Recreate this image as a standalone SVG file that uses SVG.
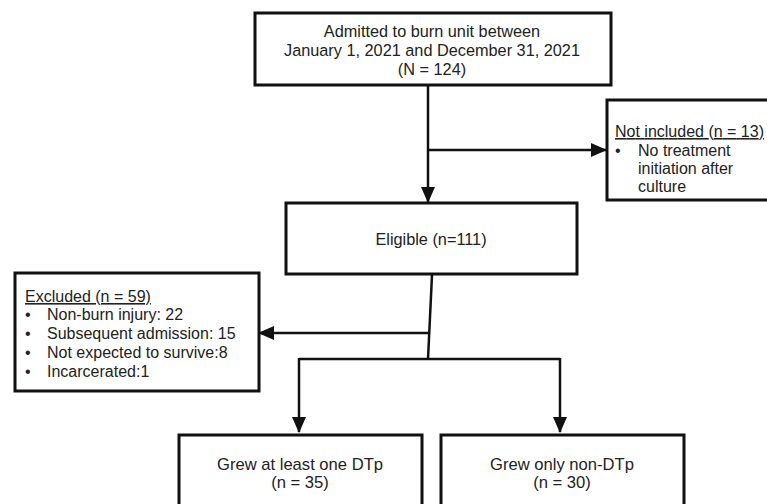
<svg xmlns="http://www.w3.org/2000/svg" width="767" height="504" viewBox="0 0 767 504">
<style>
  .box { fill: #fff; stroke: #111; stroke-width: 3; }
  .edge { fill: none; stroke: #111; stroke-width: 2.5; }
  text { font-family: "Liberation Sans", Arial, sans-serif; font-size: 16.3px; fill: #222; }
  .side { font-size: 16px; }
  .big { font-size: 16.6px; }
  .c { text-anchor: middle; }
  .u { text-decoration: underline; }
</style>
<defs>
  <marker id="arr" markerUnits="userSpaceOnUse" markerWidth="16" markerHeight="16" viewBox="0 0 16 16" refX="15" refY="8" orient="auto">
    <path d="M0,1 L16,8 L0,15 Z" fill="#111"/>
  </marker>
</defs>
<rect width="767" height="504" fill="#fff"/>
<g id="connectors">
  <line class="edge" x1="428" y1="86" x2="428" y2="202" marker-end="url(#arr)"/>
  <line class="edge" x1="428" y1="150" x2="606" y2="150" marker-end="url(#arr)"/>
  <polyline class="edge" points="432,275 428,359"/>
  <line class="edge" x1="429" y1="333" x2="259" y2="333" marker-end="url(#arr)"/>
  <polyline class="edge" points="299,359 560,359"/>
  <line class="edge" x1="299" y1="358" x2="299" y2="432" marker-end="url(#arr)"/>
  <line class="edge" x1="560" y1="358" x2="560" y2="432" marker-end="url(#arr)"/>
</g>
<g id="admitted">
  <rect class="box" x="255" y="13" width="356" height="72"/>
  <text class="c" x="432" y="37">Admitted to burn unit between</text>
  <text class="c" x="432" y="56">January 1, 2021 and December 31, 2021</text>
  <text class="c" x="432" y="75">(N = 124)</text>
</g>
<g id="not-included">
  <rect class="box" x="607" y="100" width="170" height="100"/>
  <text class="u side" x="615" y="137" textLength="149" lengthAdjust="spacing">Not included (n = 13)</text>
  <text class="side" x="615" y="156">•</text>
  <text class="side" x="638" y="156">No treatment</text>
  <text class="side" x="638" y="174">initiation after</text>
  <text class="side" x="638" y="192">culture</text>
</g>
<g id="eligible">
  <rect class="box" x="286" y="203" width="291" height="71"/>
  <text class="c" x="431" y="245">Eligible (n=111)</text>
</g>
<g id="excluded">
  <rect class="box" x="15" y="273" width="244" height="118"/>
  <text class="u side" x="25" y="302">Excluded (n = 59)</text>
  <text class="side" x="25" y="320">•</text>
  <text class="side" x="47" y="320">Non-burn injury: 22</text>
  <text class="side" x="25" y="339">•</text>
  <text class="side" x="47" y="339">Subsequent admission: 15</text>
  <text class="side" x="25" y="358">•</text>
  <text class="side" x="47" y="358">Not expected to survive:8</text>
  <text class="side" x="25" y="377">•</text>
  <text class="side" x="47" y="377">Incarcerated:1</text>
</g>
<g id="dtp">
  <rect class="box" x="179" y="435" width="243" height="90"/>
  <text class="c big" x="300" y="470">Grew at least one DTp</text>
  <text class="c big" x="300" y="488">(n = 35)</text>
</g>
<g id="non-dtp">
  <rect class="box" x="441" y="435" width="243" height="90"/>
  <text class="c big" x="562" y="470">Grew only non-DTp</text>
  <text class="c big" x="562" y="488">(n = 30)</text>
</g>
</svg>
